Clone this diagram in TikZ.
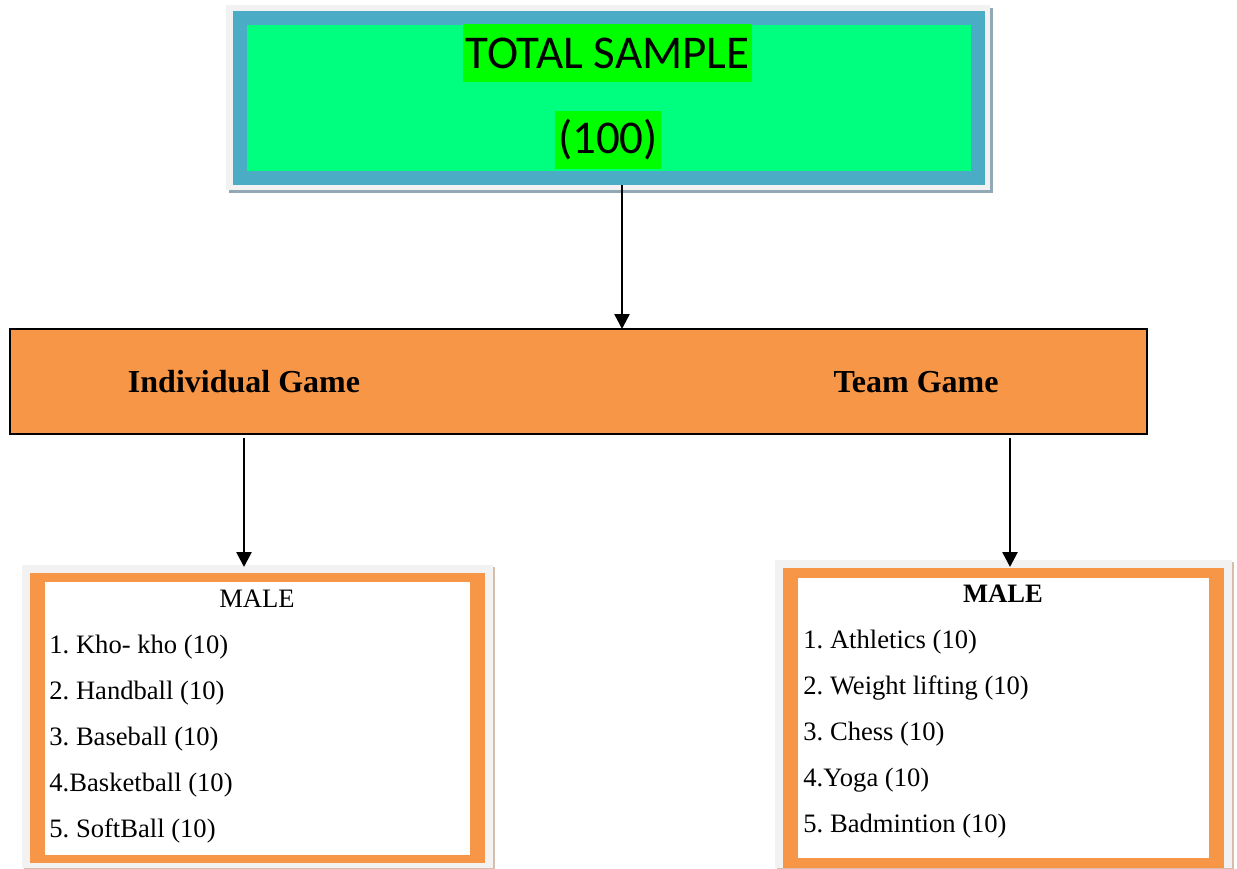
\documentclass[tikz,border=0pt]{standalone}
\usepackage{fontspec}
\setmainfont{Liberation Serif}
\newfontfamily\calibri{Carlito}
\usetikzlibrary{arrows.meta,positioning}
\definecolor{myTeal}{RGB}{75,172,198}
\definecolor{mySpring}{RGB}{0,255,127}
\definecolor{myLime}{RGB}{0,255,0}
\definecolor{myOrange}{RGB}{247,150,70}
\definecolor{myPaper}{RGB}{242,242,242}
\definecolor{myShade}{RGB}{146,168,180}
\definecolor{myTan}{RGB}{214,190,170}
\frenchspacing
\tikzset{
  >={Triangle[width=7.5pt,length=7.5pt]},
  x=0.5pt, y=-0.5pt,
  font=\fontsize{13.3}{16}\selectfont,
  panel/.style={shape=rectangle,inner sep=0,outer sep=0,anchor=north west},
  hilite/.style={fill=myLime,inner xsep=1.5pt,inner ysep=0,minimum height=29pt,font=\calibri\fontsize{23.5}{28}\selectfont},
  game/.style={inner sep=0,font=\bfseries\fontsize{16}{19}\selectfont},
  item/.style={anchor=base west,inner sep=0},
  line/.style={draw,->,line width=1.3pt},
}
\begin{document}
\begin{tikzpicture}
  \useasboundingbox (0,0) rectangle (1237,868);
  % top box
  \node (shade) [panel,fill=myShade,minimum width=382pt,minimum height=92.5pt] at (229,8) {};
  \node (paper) [panel,fill=myPaper,minimum width=382pt,minimum height=92.5pt] at (226,5) {};
  \node (sample) [panel,fill=mySpring,draw=myTeal,line width=7pt,outer sep=3.5pt,minimum width=369pt,minimum height=80pt] at (233,11) {};
  \node (total) [hilite] at (607.5,53) {TOTAL SAMPLE};
  \node (count) [hilite] at (608,140) {(100)};
  % game bar
  \node (bar) [panel,fill=myOrange,draw=black,line width=0.8pt,minimum width=568.5pt,minimum height=52.5pt] at (10,329) {};
  \node (indiv) [game] at (244,382) {Individual Game};
  \node (team) [game] at (916,382) {Team Game};
  % left list
  \node (lshade) [panel,fill=myTan,minimum width=235.5pt,minimum height=151.5pt] at (24,567) {};
  \node (lpaper) [panel,fill=myPaper,minimum width=235.5pt,minimum height=151.5pt] at (22,565) {};
  \node (lframe) [panel,fill=myOrange,minimum width=227.5pt,minimum height=145pt] at (30,573) {};
  \node (lbox) [panel,fill=white,minimum width=212.5pt,minimum height=136.5pt] at (45,582) {};
  \node (lmale) [inner sep=0,anchor=base] at (257,607) {MALE};
  \node (l1) [item] at (49,653) {1. Kho- kho (10)};
  \node (l2) [item] at (49,699) {2. Handball (10)};
  \node (l3) [item] at (49,745) {3. Baseball (10)};
  \node (l4) [item] at (49,791) {4.Basketball (10)};
  \node (l5) [item] at (49,837) {5. SoftBall (10)};
  % right list
  \node (rshade) [panel,fill=myTan,minimum width=228.5pt,minimum height=154pt] at (777,562) {};
  \node (rpaper) [panel,fill=myPaper,minimum width=228.5pt,minimum height=154pt] at (775,560) {};
  \node (rframe) [panel,fill=myOrange,minimum width=220.5pt,minimum height=150pt] at (783,568) {};
  \node (rbox) [panel,fill=white,minimum width=205.5pt,minimum height=140pt] at (798,578) {};
  \node (rmale) [inner sep=0,anchor=base,font=\bfseries\fontsize{13.3}{16}\selectfont] at (1003,602) {MALE};
  \node (r1) [item] at (803,648) {1. Athletics (10)};
  \node (r2) [item] at (803,694) {2. Weight lifting (10)};
  \node (r3) [item] at (803,740) {3. Chess (10)};
  \node (r4) [item] at (803,786) {4.Yoga (10)};
  \node (r5) [item] at (803,832) {5. Badmintion (10)};
  % arrows
  \coordinate (drop) at (622,0);
  \coordinate (tdrop) at (1010,0);
  \path [line] (sample.south -| drop) -- (bar.north -| drop);
  \path [line] ([yshift=-2pt]bar.south -| indiv) -- ([yshift=-1pt]lpaper.north -| indiv);
  \path [line] ([yshift=-2pt]bar.south -| tdrop) -- ([yshift=-3.5pt]rpaper.north -| tdrop);
\end{tikzpicture}
\end{document}
